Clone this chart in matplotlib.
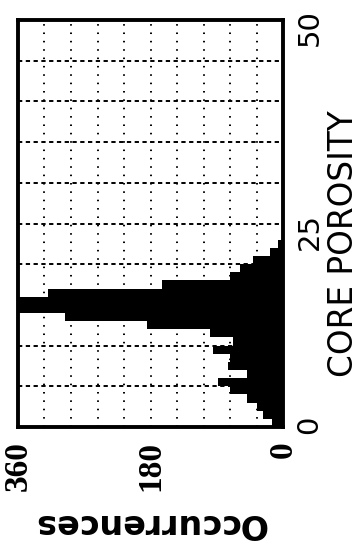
import matplotlib
matplotlib.use('Agg')
import matplotlib.pyplot as plt
import numpy as np

# porosity bins (1 unit wide) and occurrence counts
bin_start = np.arange(0, 24)
counts = [15, 27, 35, 49, 72, 88, 49, 75, 72, 95, 68, 99,
          185, 296, 430, 395, 319, 164, 72, 58, 41, 18, 7, 2]
occ_ticks = [360, 180, 0]
por_ticks = [0, 25, 50]

W, H = 361, 544
fig = plt.figure(figsize=(W / 100, H / 100), dpi=100)
ax = fig.add_axes([18 / W, 1 - 427 / H, (283 - 18) / W, (427 - 20) / H])

ax.barh(bin_start, counts, height=1, align='edge', color='black', lw=0, zorder=2)
ax.set_xlim(360, 0)
ax.set_ylim(0, 50)

# grid: dashed horizontal every 5, dotted vertical every 36
for p in range(5, 50, 5):
    ax.axhline(p, color='black', lw=1.4, ls=(0, (2.2, 1.8)), zorder=1)
for v in range(36, 360, 36):
    ax.axvline(v, color='black', lw=1.4, ls=(0, (0.8, 3.5)), zorder=1)

for s in ax.spines.values():
    s.set_linewidth(2.8)

ax.set_xticks(occ_ticks)
ax.set_xticklabels([str(t) for t in occ_ticks], rotation=90,
                   family=['Liberation Serif', 'DejaVu Serif'], weight='bold', fontsize=24)
ax.tick_params(axis='x', length=0, pad=10)

ax.yaxis.tick_right()
ax.set_yticks(por_ticks)
ax.set_yticklabels([str(t) for t in por_ticks], rotation=90,
                   family=['Liberation Sans Narrow', 'DejaVu Sans'], fontsize=21)
ax.tick_params(axis='y', length=0, pad=9)

fig.text(150 / W, 1 - 524 / H, 'Occurrences', rotation=180, ha='center', va='center',
         fontsize=24, weight='bold', family='DejaVu Sans')
fig.text(360 / W, 1 - 244 / H, 'CORE POROSITY', rotation=90, ha='right', va='center',
         fontsize=23.5, family='DejaVu Sans')

fig.savefig('out.png', dpi=100)
